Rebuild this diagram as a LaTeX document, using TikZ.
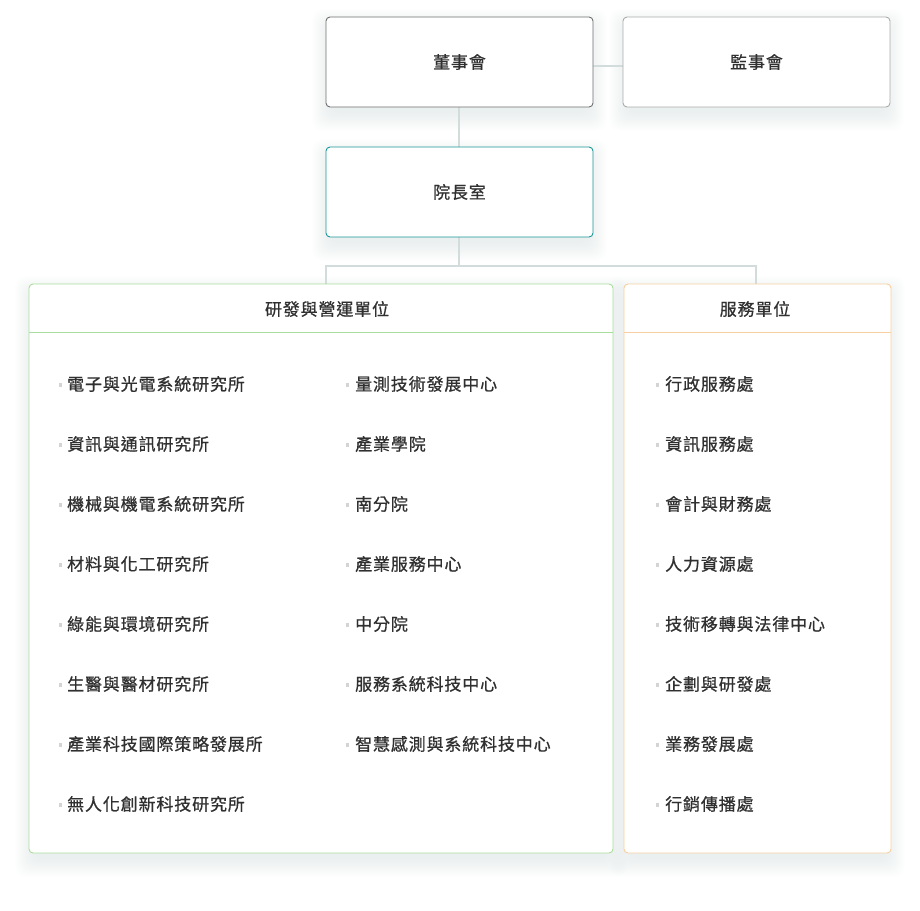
\documentclass[tikz,border=0pt]{standalone}
\usepackage{fontspec}
\setmainfont{Noto Sans CJK TC}[LetterSpace=5,FakeBold=0.7]
\usetikzlibrary{positioning}
\definecolor{textc}{HTML}{303030}
\definecolor{dsborder}{HTML}{6E6E6E}
\definecolor{jsborder}{HTML}{AAAAAA}
\definecolor{yzborder}{HTML}{1A9696}
\definecolor{linkc}{HTML}{D3DCDC}
\definecolor{rdborder}{HTML}{A9DD9C}
\definecolor{svborder}{HTML}{F7CFA0}
\definecolor{bulletc}{HTML}{D4D4D4}
\definecolor{shadowc}{HTML}{9FB4B4}
\newcommand\mkshadow[4]{%
  \foreach \i in {1,...,20}{%
    \fill[shadowc,opacity=0.011,rounded corners=10]
      (#1-\i+6,#2+12-\i) rectangle (#3+\i-6,#4+4+\i);}}
\tikzset{
  topbox/.style={draw,line width=0.9pt,rounded corners=4pt,fill=white,
    minimum width=267pt,minimum height=90pt,inner sep=0pt,
    font=\fontsize{17}{19}\selectfont,text=textc},
  bigbox/.style={draw,line width=0.9pt,rounded corners=4pt,fill=white,inner sep=0pt},
  link/.style={draw=linkc,line width=1.4pt},
  item/.style={anchor=west,inner sep=0pt,font=\fontsize{17}{19}\selectfont,text=textc},
  head/.style={inner sep=0pt,font=\fontsize{17}{19}\selectfont,text=textc},
  bul/.style={fill=bulletc,draw=none,minimum size=3.5pt,inner sep=0pt}
}
\begin{document}
\begin{tikzpicture}[x=1pt,y=-1pt]
\useasboundingbox (0,0) rectangle (920,910);
% shadows
\mkshadow{326}{17}{593}{107}
\mkshadow{623}{17}{890}{107}
\mkshadow{326}{147}{593}{237}
\mkshadow{29}{284}{613}{853}
\mkshadow{624}{284}{891}{853}
% connectors
\coordinate (jc) at (459,266);
\coordinate (jl) at (326,266);
\coordinate (jr) at (756,266);
\coordinate (rdtop) at (326,284);
\coordinate (svtop) at (756,284);
\path[link] (459,107) -- (459,147);
\path[link] (593,66) -- (623,66);
\path[link] (459,237) -- (jc);
\path[link] (rdtop) -- (jl) -- (jr) -- (svtop);
% top boxes
\node[topbox,draw=dsborder] (ds) at (459.5,62) {董事會};
\node[topbox,draw=jsborder] (js) at (756.5,62) {監事會};
\node[topbox,draw=yzborder] (yz) at (459.5,192) {院長室};
% big boxes
\node[bigbox,draw=rdborder,minimum width=584pt,minimum height=569pt] (rd) at (321,568.5) {};
\node[bigbox,draw=svborder,minimum width=267pt,minimum height=569pt] (sv) at (757.5,568.5) {};
\draw[rdborder,line width=0.9pt] (29,332) -- (613,332);
\draw[svborder,line width=0.9pt] (624,332) -- (891,332);
\node[head] (rdh) at (327,309) {研發與營運單位};
\node[head] (svh) at (755,309) {服務單位};
% left column
\foreach \t [count=\k from 0] in {電子與光電系統研究所,資訊與通訊研究所,機械與機電系統研究所,材料與化工研究所,綠能與環境研究所,生醫與醫材研究所,產業科技國際策略發展所,無人化創新科技研究所}{
  \node[bul] (bl\k) at (60.5,385+60*\k) {};
  \node[item] (tl\k) at (67,384+60*\k) {\t};
}
% middle column
\foreach \t [count=\k from 0] in {量測技術發展中心,產業學院,南分院,產業服務中心,中分院,服務系統科技中心,智慧感測與系統科技中心}{
  \node[bul] (bm\k) at (347.5,385+60*\k) {};
  \node[item] (tm\k) at (355,384+60*\k) {\t};
}
% right column
\foreach \t [count=\k from 0] in {行政服務處,資訊服務處,會計與財務處,人力資源處,技術移轉與法律中心,企劃與研發處,業務發展處,行銷傳播處}{
  \node[bul] (br\k) at (657.5,385+60*\k) {};
  \node[item] (tr\k) at (665,384+60*\k) {\t};
}
\end{tikzpicture}
\end{document}
